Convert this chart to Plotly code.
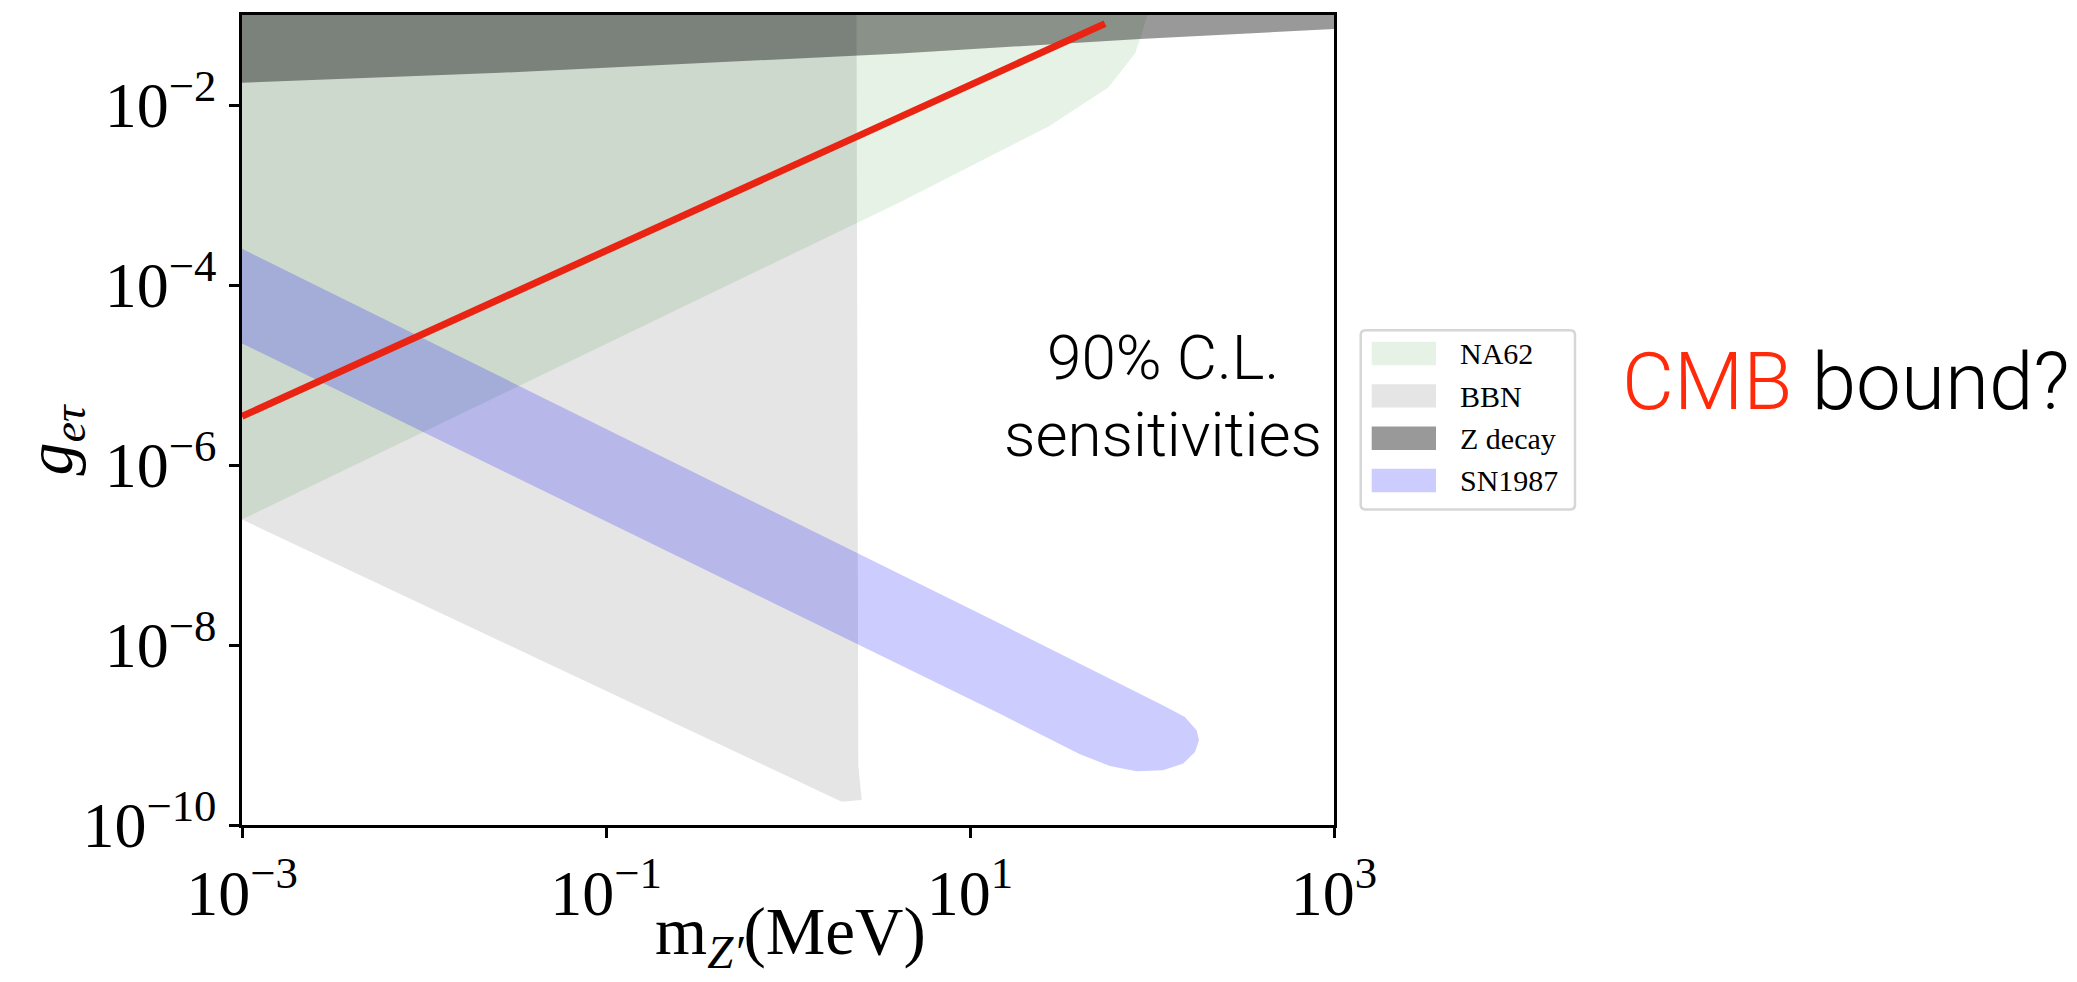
import plotly.graph_objects as go

# ---- data -------------------------------------------------------------
x_tick_vals = [1e-3, 1e-1, 1e1, 1e3]
x_tick_text = ["10<sup>−3</sup>", "10<sup>−1</sup>", "10<sup>1</sup>", "10<sup>3</sup>"]
y_tick_vals = [1e-10, 1e-8, 1e-6, 1e-4, 1e-2]
y_tick_text = ["10<sup>−10</sup>", "10<sup>−8</sup>", "10<sup>−6</sup>",
               "10<sup>−4</sup>", "10<sup>−2</sup>"]

# NA62 sensitivity region (m in MeV, coupling)
na62_mass = [1e-3, 1e-3, 4.12, 26.9, 57.5, 80.7, 85.9, 94.0, 94.4]
na62_coupling = [0.1, 2.48e-7, 8.30e-4, 5.75e-3, 1.56e-2, 3.73e-2, 5.33e-2, 9.68e-2, 0.1]

# BBN region
bbn_mass = [1e-3, 1e-3, 1.973, 2.541, 2.434, 2.379]
bbn_coupling = [0.1, 2.48e-7, 1.81e-10, 1.89e-10, 4.61e-10, 0.1]

# Z decay region
zdec_mass = [1e-3, 1e-3, 0.0262, 4.12, 85.9, 1000.0, 1000.0]
zdec_coupling = [0.1, 1.77e-2, 2.28e-2, 3.73e-2, 5.42e-2, 7.0e-2, 0.1]

# SN1987 band
sn_mass = [1e-3, 14.6, 115.3, 151.7, 176.1, 181.2, 172.3, 148.6, 114.8,
           82.4, 58.7, 40.2, 14.6, 1e-3]
sn_coupling = [2.52e-4, 1.73e-8, 2.13e-9, 1.58e-9, 1.12e-9, 8.73e-10, 6.47e-10,
               4.82e-10, 4.06e-10, 3.96e-10, 4.53e-10, 6.11e-10, 1.72e-9, 2.24e-5]

# CMB line
cmb_mass = [1e-3, 55.2]
cmb_coupling = [3.47e-6, 8.02e-2]

legend_names = ["NA62", "BBN", "Z decay", "SN1987"]

# ---- styling ----------------------------------------------------------
W, H = 2077, 982
L, R, T, B = 242, 1334, 12, 825          # plot-area edges in pixels

NA62_FILL = "rgba(0,128,0,0.1)"
BBN_FILL = "rgba(0,0,0,0.1)"
ZDEC_FILL = "rgba(0,0,0,0.4)"
SN_FILL = "rgba(0,0,255,0.2)"
CMB_RED = "#ea2413"
TEXT_RED = "#ff2a0a"

SERIF = "Liberation Serif"
SANS = "Roboto"


def px_x(p):
    return (p - L) / (R - L)


def px_y(p):
    return (B - p) / (B - T)


def rounded_rect(x0, y0, x1, y1, r):
    pts = [
        ("M", [(x0 + r, y0)]),
        ("L", [(x1 - r, y0)]), ("Q", [(x1, y0), (x1, y0 + r)]),
        ("L", [(x1, y1 - r)]), ("Q", [(x1, y1), (x1 - r, y1)]),
        ("L", [(x0 + r, y1)]), ("Q", [(x0, y1), (x0, y1 - r)]),
        ("L", [(x0, y0 + r)]), ("Q", [(x0, y0), (x0 + r, y0)]),
    ]
    parts = []
    for cmd, coords in pts:
        parts.append(cmd + " ".join(f"{px_x(a):.5f},{px_y(b):.5f}" for a, b in coords))
    return " ".join(parts) + " Z"


fig = go.Figure()

regions = [
    (na62_mass, na62_coupling, NA62_FILL, "NA62"),
    (bbn_mass, bbn_coupling, BBN_FILL, "BBN"),
    (zdec_mass, zdec_coupling, ZDEC_FILL, "Z decay"),
    (sn_mass, sn_coupling, SN_FILL, "SN1987"),
]
for xs, ys, col, name in regions:
    fig.add_trace(go.Scatter(
        x=xs, y=ys, mode="lines", fill="toself", fillcolor=col,
        line=dict(width=0, color=col), name=name, showlegend=False,
        hoverinfo="name"))

fig.add_trace(go.Scatter(
    x=cmb_mass, y=cmb_coupling, mode="lines",
    line=dict(color=CMB_RED, width=7), name="CMB", showlegend=False))

axis_common = dict(
    type="log", showgrid=False, zeroline=False,
    showline=True, linecolor="black", linewidth=2.5, mirror=True,
    ticks="outside", ticklen=10, tickwidth=2.5, tickcolor="black",
    tickfont=dict(family=SERIF, size=64, color="black"),
)
fig.update_xaxes(range=[-3, 3], tickvals=x_tick_vals, ticktext=x_tick_text,
                 **axis_common)
fig.update_yaxes(range=[-10, -1], tickvals=y_tick_vals, ticktext=y_tick_text,
                 **axis_common)

shapes = []
annotations = []

# legend box
shapes.append(dict(type="path", xref="paper", yref="paper",
                   path=rounded_rect(1360.7, 328.3, 1575, 508.3, 5),
                   line=dict(color="#d6d6d6", width=2.5), fillcolor="white"))
legend_fills = [NA62_FILL, BBN_FILL, ZDEC_FILL, SN_FILL]
row_top = [340.0, 382.5, 425.0, 467.5]
for name, fc, y0 in zip(legend_names, legend_fills, row_top):
    shapes.append(dict(type="rect", xref="paper", yref="paper",
                       x0=px_x(1371.7), x1=px_x(1436), y0=px_y(y0), y1=px_y(y0 + 23.5),
                       line=dict(width=0), fillcolor=fc))
    annotations.append(dict(xref="paper", yref="paper", x=px_x(1458), y=px_y(y0 + 12),
                            xanchor="left", yanchor="middle", showarrow=False,
                            text=name, font=dict(family=SERIF, size=30, color="black")))

# axis titles
annotations.append(dict(xref="paper", yref="paper", x=px_x(790), y=px_y(936),
                        xanchor="center", yanchor="middle", showarrow=False,
                        text="m<sub><i>Z′</i></sub>(MeV)",
                        font=dict(family=SERIF, size=67, color="black")))
annotations.append(dict(xref="paper", yref="paper", x=px_x(54), y=px_y(438),
                        xanchor="center", yanchor="middle", showarrow=False,
                        textangle=-90, text="<i>g</i><sub><i>eτ</i></sub>",
                        font=dict(family=SERIF, size=66, color="black")))

# in-plot caption
annotations.append(dict(xref="paper", yref="paper", x=px_x(1163), y=px_y(356),
                        xanchor="center", yanchor="middle", showarrow=False,
                        text="90% C.L.",
                        font=dict(family=SANS, size=62, color="black", weight=300)))
annotations.append(dict(xref="paper", yref="paper", x=px_x(1163), y=px_y(433),
                        xanchor="center", yanchor="middle", showarrow=False,
                        text="sensitivities",
                        font=dict(family=SANS, size=62, color="black", weight=300)))

# side note
annotations.append(dict(xref="paper", yref="paper", x=px_x(1846), y=px_y(380),
                        xanchor="center", yanchor="middle", showarrow=False,
                        text=f"<span style='color:{TEXT_RED}'>CMB</span> bound?",
                        font=dict(family=SANS, size=80, color="black", weight=300)))

fig.update_layout(
    width=W, height=H,
    margin=dict(l=L, r=W - R, t=T, b=H - B, pad=0),
    paper_bgcolor="white", plot_bgcolor="white",
    showlegend=False,
    shapes=shapes, annotations=annotations,
)

fig.write_html("out.html")
